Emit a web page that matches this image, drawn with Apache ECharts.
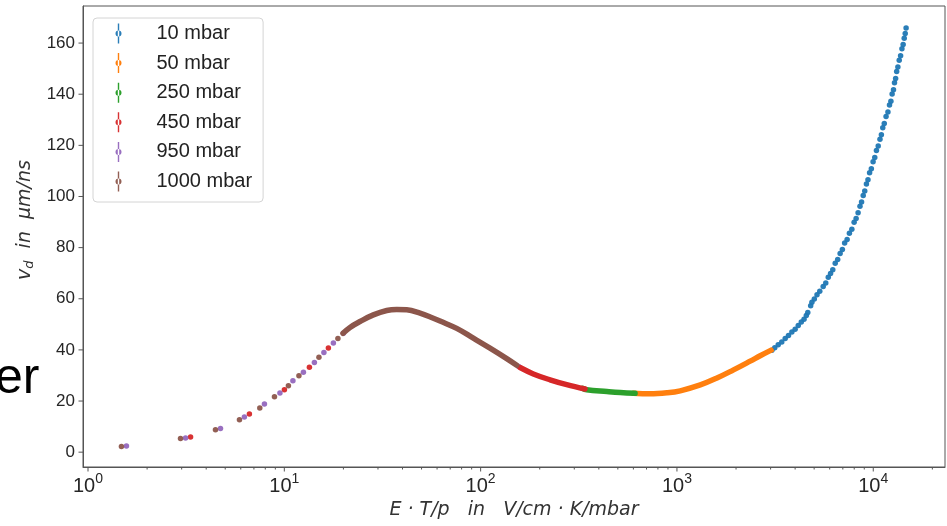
<!DOCTYPE html>
<html><head><meta charset="utf-8">
<script src="https://cdn.jsdelivr.net/npm/echarts@6/dist/echarts.min.js"></script>
<style>html,body{margin:0;padding:0;background:#fff}#c{width:947px;height:526px}</style>
</head><body><div id="c"></div>
<script>
// ---------- data ----------
const seriesNames = ['10 mbar', '50 mbar', '250 mbar', '450 mbar', '950 mbar', '1000 mbar'];
const seriesColors = ['#1f77b4', '#ff7f0e', '#2ca02c', '#d62728', '#9467bd', '#8c564b'];

// 10 mbar (blue dots)
const x10 = [3046,3150,3280,3420,3560,3700,3850,4000,4150,4300,4440,4560,4640,4800,4870,5010,5170,5340,5560,5730,5900,6060,6220,6400,6590,6780,6960,7150,7360,7560,7780,7990,8180,8370,8560,8720,8890,9050,9230,9400,9580,9780,9980,10180,10380,10600,10820,11000,11180,11380,11620,11880,12100,12300,12480,12680,12830,13000,13160,13350,13560,13780,14000,14200,14380,14550,14700];
const y10 = [39.9,40.8,42.0,43.1,44.5,45.6,47.0,48.1,49.5,50.9,52.0,53.5,54.6,57.3,58.6,59.9,61.6,62.9,64.8,66.2,68.4,69.9,71.3,73.9,75.4,77.7,79.3,81.8,83.2,85.6,87.2,89.9,91.4,93.6,96.2,97.8,100.4,102.1,104.9,106.5,109.3,110.8,113.6,115.2,118.0,119.7,122.4,124.1,126.9,128.5,131.3,133.0,135.8,137.2,140.1,141.7,144.5,146.1,148.9,150.6,153.3,155.0,157.8,159.4,161.9,163.7,165.9];

// 50 mbar (dense orange band)
const x50 = [600, 729, 889, 1040, 1315, 1599, 1942, 2361, 2655, 3020];
const y50 = [23.0, 22.8, 23.2, 24.0, 26.3, 29.0, 32.2, 35.6, 37.7, 39.9];

// 250 mbar (dense green band)
const x250 = [330, 347, 440, 514, 612];
const y250 = [25.0, 24.4, 23.7, 23.3, 23.0];

// 450 mbar: sparse dots at low field, dense red band
const x450Dots = [3.33, 6.64, 10.01, 13.42, 16.77];
const y450Dots = [5.9, 14.9, 24.4, 33.2, 40.7];
const x450Band = [158.8, 185.6, 225.7, 274.5, 340];
const y450Band = [33.1, 30.6, 28.3, 26.4, 24.7];

// 950 mbar (purple dots)
const x950 = [1.57, 3.14, 4.73, 6.26, 7.92, 9.50, 11.06, 12.51, 14.23, 15.91, 17.78, 20.0, 156.3];
const y950 = [2.4, 5.5, 9.3, 13.8, 18.8, 23.1, 27.9, 31.3, 35.1, 39.0, 42.7, 46.5, 33.5];

// 1000 mbar: sparse dots at low field, dense brown band
const x1000Dots = [1.48, 2.96, 4.46, 5.91, 7.50, 8.91, 10.49, 11.87, 15.01, 18.75];
const y1000Dots = [2.2, 5.3, 8.8, 12.7, 17.3, 21.7, 26.0, 29.9, 37.1, 44.5];
const x1000Band = [19.91, 21.61, 24.30, 28.41, 33.24, 37.38, 42.03, 49.12, 57.42, 62.11, 75.55, 91.79, 111.6, 135.8, 152.7];
const y1000Band = [46.5, 48.8, 51.1, 53.7, 55.4, 55.8, 55.7, 54.4, 52.4, 51.3, 48.4, 44.6, 40.7, 36.6, 34.0];

// axis ticks
const xMajorTicks = [1, 10, 100, 1000, 10000];
const xMinorTicks = [2,3,4,5,6,7,8,9,20,30,40,50,60,70,80,90,200,300,400,500,600,700,800,900,2000,3000,4000,5000,6000,7000,8000,9000,20000];
const yTickValues = [0, 20, 40, 60, 80, 100, 120, 140, 160];
const X_MIN = 0.943, X_MAX = 23200, Y_MIN = -5.8, Y_MAX = 174.5;

// ---------- chart ----------
const pairs = (xs, ys) => xs.map((x, i) => [x, ys[i]]);
const AXIS_COLOR = '#555';
const LABEL_FONT = '"Liberation Sans", Arial, sans-serif';
const MATH_FONT = '"DejaVu Sans", sans-serif';

function dots(name, color, xs, ys, size) {
  return { type: 'scatter', name, data: pairs(xs, ys), symbol: 'circle', symbolSize: size,
    itemStyle: { color, opacity: 0.95 }, emphasis: { disabled: true }, silent: true };
}
function band(name, color, xs, ys) {
  return { type: 'line', name, data: pairs(xs, ys), smooth: 0.4, symbol: 'none',
    lineStyle: { color, width: 5.5, cap: 'round', join: 'round' }, itemStyle: { color },
    emphasis: { disabled: true }, silent: true };
}
function tickSeries(values, axis, len) {
  return {
    type: 'custom', silent: true, z: 5, clip: false,
    data: values.map(v => axis === 'x' ? [v, Y_MIN] : [X_MIN, v]),
    renderItem: (p, api) => {
      const pt = api.coord([api.value(0), api.value(1)]);
      const shape = axis === 'x'
        ? { x1: pt[0], y1: pt[1], x2: pt[0], y2: pt[1] + len }
        : { x1: pt[0], y1: pt[1], x2: pt[0] - len, y2: pt[1] };
      return { type: 'line', shape, style: { stroke: AXIS_COLOR, lineWidth: 1 } };
    }
  };
}

const legendIcon = 'path://M2.3,0 L3.7,0 L3.7,20 L2.3,20 Z M0,10 A3,3 0 1 0 6,10 A3,3 0 1 0 0,10 Z';

const option = {
  backgroundColor: '#fff',
  animation: false,
  grid: { left: 83, right: 2, top: 6, bottom: 59, containLabel: false, outerBoundsMode: 'none',
    show: true, borderColor: AXIS_COLOR, borderWidth: 1, backgroundColor: 'transparent' },
  legend: {
    data: seriesNames.map((n, i) => ({ name: n, itemStyle: { color: seriesColors[i], borderWidth: 0 } })),
    orient: 'vertical', left: 93, top: 18,
    padding: [5.5, 11, 10.5, 22.5], itemGap: 9.6, itemWidth: 12, itemHeight: 20,
    icon: legendIcon, symbolKeepAspect: true,
    backgroundColor: '#fff', borderColor: '#d4d4d4', borderWidth: 1, borderRadius: 4,
    selectedMode: false,
    textStyle: { fontFamily: LABEL_FONT, fontSize: 20, color: '#222', padding: [0, 0, 0, 27] }
  },
  xAxis: {
    type: 'log', logBase: 10, min: X_MIN, max: X_MAX,
    name: 'E · T/p   in   V/cm · K/mbar', nameLocation: 'middle', nameGap: 34,
    nameTextStyle: { fontFamily: MATH_FONT, fontStyle: 'italic', fontSize: 19, color: '#333' },
    axisLine: { show: true, onZero: false, lineStyle: { color: AXIS_COLOR, width: 1 } },
    axisTick: { show: false }, minorTick: { show: false },
    splitLine: { show: false }, minorSplitLine: { show: false },
    axisLabel: {
      margin: 5,
      formatter: v => {
        const e = Math.log10(v), r = Math.round(e);
        if (Math.abs(e - r) > 1e-6) return '';
        return '{b|10}{s|' + r + '}';
      },
      rich: {
        b: { fontFamily: LABEL_FONT, fontSize: 20, color: '#262626' },
        s: { fontFamily: LABEL_FONT, fontSize: 14, color: '#262626', padding: [0, 0, 14, 0] }
      }
    }
  },
  yAxis: {
    type: 'value', min: Y_MIN, max: Y_MAX, splitNumber: 9,
    name: '{i|v}{s|d}{i|  in  μm/ns}', nameLocation: 'middle', nameGap: 44, nameRotate: 90,
    nameTextStyle: { padding: [0, 0, 0, 33],
      rich: {
        i: { fontFamily: MATH_FONT, fontStyle: 'italic', fontSize: 19, color: '#333' },
        s: { fontFamily: MATH_FONT, fontStyle: 'italic', fontSize: 13, color: '#333', padding: [9, 0, 0, 0] }
      } },
    axisLine: { show: true, onZero: false, lineStyle: { color: AXIS_COLOR, width: 1 } },
    axisTick: { show: false },
    splitLine: { show: false },
    axisLabel: {
      margin: 8, fontFamily: LABEL_FONT, fontSize: 17, color: '#262626',
      formatter: v => yTickValues.some(t => Math.abs(t - v) < 1e-6) ? String(Math.round(v)) : ''
    }
  },
  graphic: [{
    type: 'text', x: -5, y: 379.5, silent: true,
    style: { text: 'er', font: '50px "Liberation Sans", Arial, sans-serif', fill: '#000', verticalAlign: 'middle' }
  }],
  series: [
    dots('10 mbar', seriesColors[0], x10, y10, 5.5),
    band('50 mbar', seriesColors[1], x50, y50),
    band('250 mbar', seriesColors[2], x250, y250),
    dots('450 mbar', seriesColors[3], x450Dots, y450Dots, 5.5),
    band('450 mbar', seriesColors[3], x450Band, y450Band),
    dots('950 mbar', seriesColors[4], x950, y950, 5.5),
    dots('1000 mbar', seriesColors[5], x1000Dots, y1000Dots, 5.5),
    band('1000 mbar', seriesColors[5], x1000Band, y1000Band),
    tickSeries(xMajorTicks, 'x', 4.5),
    tickSeries(xMinorTicks, 'x', 2.5),
    tickSeries(yTickValues, 'y', 4.5)
  ]
};

const chart = echarts.init(document.getElementById('c'), null, { renderer: 'canvas' });
chart.setOption(option);
</script></body></html>
